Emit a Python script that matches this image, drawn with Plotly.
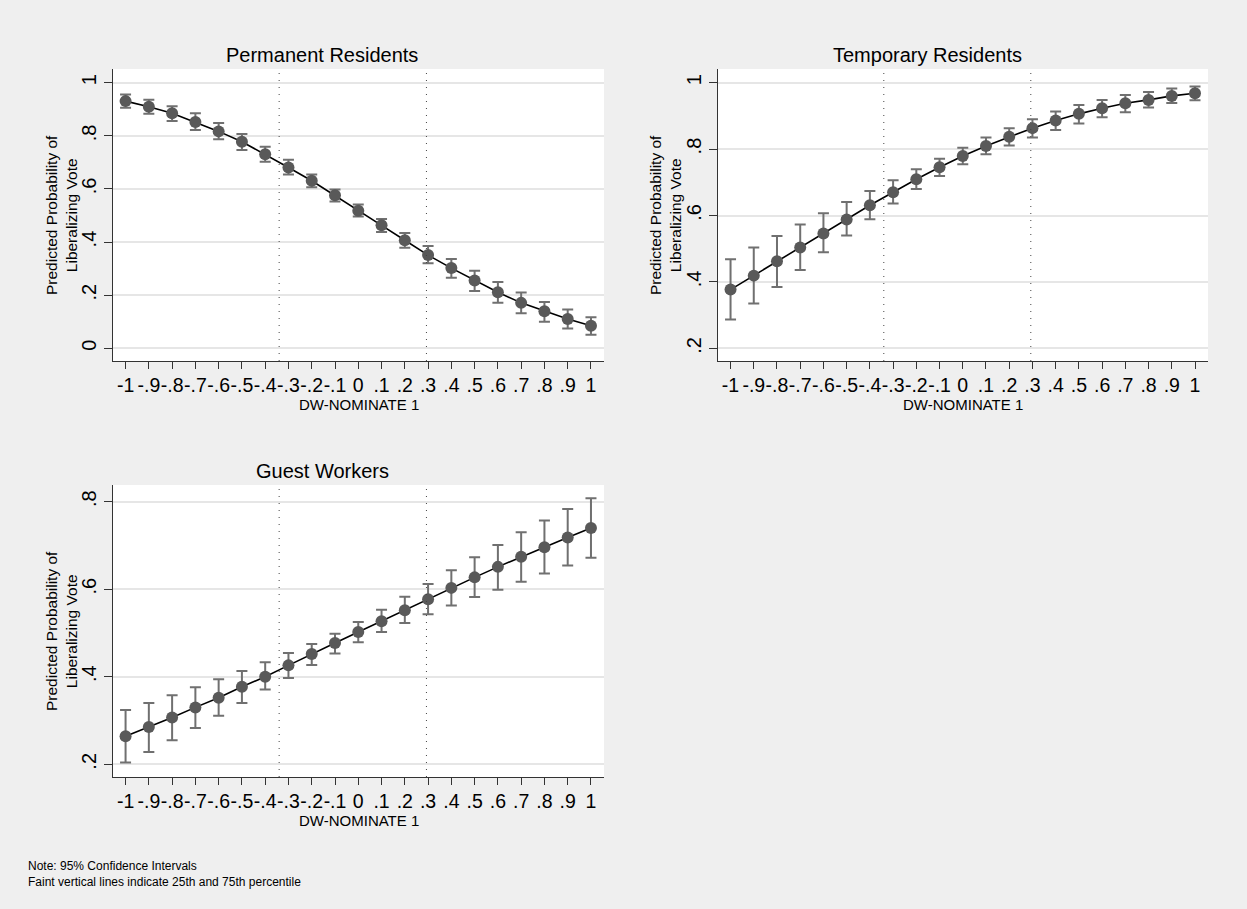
import plotly.graph_objects as go

# ---- data ----
x_vals = [-1.0, -0.9, -0.8, -0.7, -0.6, -0.5, -0.4, -0.3, -0.2, -0.1, 0.0,
          0.1, 0.2, 0.3, 0.4, 0.5, 0.6, 0.7, 0.8, 0.9, 1.0]
x_ticklabels = ["-1", "-.9", "-.8", "-.7", "-.6", "-.5", "-.4", "-.3", "-.2", "-.1", "0",
                ".1", ".2", ".3", ".4", ".5", ".6", ".7", ".8", ".9", "1"]

perm_mean = [0.931, 0.910, 0.885, 0.852, 0.817, 0.778, 0.731, 0.681, 0.631, 0.576, 0.518,
             0.463, 0.407, 0.351, 0.302, 0.255, 0.211, 0.171, 0.139, 0.110, 0.085]
perm_hi = [0.956, 0.936, 0.912, 0.885, 0.849, 0.807, 0.759, 0.710, 0.655, 0.598, 0.542,
           0.487, 0.434, 0.385, 0.336, 0.292, 0.250, 0.210, 0.174, 0.146, 0.117]
perm_lo = [0.906, 0.883, 0.856, 0.822, 0.787, 0.747, 0.703, 0.655, 0.607, 0.553, 0.496,
           0.438, 0.379, 0.320, 0.266, 0.216, 0.171, 0.132, 0.100, 0.074, 0.051]

temp_mean = [0.377, 0.419, 0.462, 0.504, 0.546, 0.588, 0.631, 0.670, 0.709, 0.745, 0.779,
             0.809, 0.837, 0.863, 0.886, 0.906, 0.923, 0.938, 0.948, 0.960, 0.968]
temp_hi = [0.468, 0.504, 0.538, 0.573, 0.607, 0.641, 0.674, 0.706, 0.739, 0.771, 0.804,
           0.835, 0.863, 0.890, 0.913, 0.933, 0.948, 0.963, 0.972, 0.982, 0.988]
temp_lo = [0.287, 0.335, 0.385, 0.436, 0.489, 0.540, 0.589, 0.636, 0.680, 0.719, 0.754,
           0.784, 0.811, 0.835, 0.857, 0.877, 0.896, 0.911, 0.925, 0.939, 0.947]

guest_mean = [0.264, 0.285, 0.307, 0.330, 0.352, 0.377, 0.400, 0.426, 0.452, 0.477, 0.502,
              0.527, 0.552, 0.577, 0.603, 0.627, 0.651, 0.674, 0.696, 0.718, 0.740]
guest_hi = [0.324, 0.340, 0.358, 0.376, 0.394, 0.413, 0.433, 0.454, 0.475, 0.498, 0.525,
            0.553, 0.583, 0.612, 0.643, 0.673, 0.701, 0.730, 0.757, 0.783, 0.808]
guest_lo = [0.204, 0.228, 0.255, 0.283, 0.311, 0.340, 0.371, 0.397, 0.427, 0.453, 0.479,
            0.502, 0.523, 0.543, 0.563, 0.582, 0.599, 0.617, 0.636, 0.654, 0.672]

percentiles = [-0.34, 0.293]  # 25th and 75th percentile of DW-NOMINATE 1

panel_titles = ["Permanent Residents", "Temporary Residents", "Guest Workers"]
x_title = "DW-NOMINATE 1"
y_title = "Predicted Probability of<br>Liberalizing Vote"
y_ticks = [[0, 0.2, 0.4, 0.6, 0.8, 1.0], [0.2, 0.4, 0.6, 0.8, 1.0], [0.2, 0.4, 0.6, 0.8]]
y_ticklabels = [["0", ".2", ".4", ".6", ".8", "1"], [".2", ".4", ".6", ".8", "1"],
                [".2", ".4", ".6", ".8"]]
y_ranges = [[-0.048, 1.052], [0.162, 1.041], [0.171, 0.838]]
x_range = [-1.054, 1.056]
note_text = ("Note: 95% Confidence Intervals<br>"
             "Faint vertical lines indicate 25th and 75th percentile")

# ---- layout geometry (pixels) ----
W, H = 1247, 909
panels = [
    dict(x0=113, x1=604, y0=69, y1=361, title_x=322, title_y=55, ytitle_x=61, xtitle_y=405),
    dict(x0=718, x1=1208, y0=69, y1=361, title_x=927, title_y=55, ytitle_x=665, xtitle_y=405),
    dict(x0=113, x1=604, y0=485, y1=777, title_x=322, title_y=471, ytitle_x=61, xtitle_y=820),
]

FONT = "Liberation Sans, Arial, Helvetica, sans-serif"
fig = go.Figure()

series = [(perm_mean, perm_lo, perm_hi), (temp_mean, temp_lo, temp_hi),
          (guest_mean, guest_lo, guest_hi)]


def px(xp):
    return xp / W


def py(yp):
    return 1 - yp / H


for i, (mean, lo, hi) in enumerate(series):
    sfx = "" if i == 0 else str(i + 1)
    fig.add_trace(go.Scatter(
        x=x_vals, y=mean, mode="lines+markers",
        line=dict(color="black", width=1.6),
        marker=dict(color="#595959", size=12),
        error_y=dict(type="data", symmetric=False,
                     array=[h - m for h, m in zip(hi, mean)],
                     arrayminus=[m - l for m, l in zip(mean, lo)],
                     color="#707070", thickness=2, width=5.5),
        xaxis="x" + sfx, yaxis="y" + sfx, showlegend=False,
    ))
    p = panels[i]
    fig.update_layout(**{
        "xaxis" + sfx: dict(
            domain=[px(p["x0"]), px(p["x1"])], anchor="y" + sfx, range=x_range,
            tickmode="array", tickvals=x_vals, ticktext=x_ticklabels, tickangle=0,
            ticks="outside", ticklen=7, tickcolor="#333", tickwidth=1,
            showline=True, linecolor="#333", linewidth=1, showgrid=False,
            zeroline=False, tickfont=dict(size=19.5, color="black", family=FONT),
        ),
        "yaxis" + sfx: dict(
            domain=[py(p["y1"]), py(p["y0"])], anchor="x" + sfx, range=y_ranges[i],
            tickmode="array", tickvals=y_ticks[i], ticktext=y_ticklabels[i],
            tickangle=-90,
            ticks="outside", ticklen=8, tickcolor="#333", tickwidth=1,
            showline=True, linecolor="#333", linewidth=1,
            showgrid=True, gridcolor="#e6e6e6", gridwidth=1.5,
            zeroline=False, tickfont=dict(size=20, color="black", family=FONT),
        ),
    })
    for xv in percentiles:
        fig.add_shape(type="line", x0=xv, x1=xv, y0=0, y1=1,
                      xref="x" + sfx, yref="y" + sfx + " domain",
                      line=dict(color="#444", width=1, dash="1px,6px"))
    fig.add_annotation(text=panel_titles[i], x=px(p["title_x"]), y=py(p["title_y"]),
                       xref="paper", yref="paper", showarrow=False,
                       yanchor="middle", xanchor="center",
                       font=dict(size=20, color="black", family=FONT))
    fig.add_annotation(text=x_title, x=px((p["x0"] + p["x1"]) / 2), y=py(p["xtitle_y"]),
                       xref="paper", yref="paper", showarrow=False,
                       yanchor="middle", xanchor="center",
                       font=dict(size=15, color="black", family=FONT))
    fig.add_annotation(text=y_title, x=px(p["ytitle_x"]), y=py((p["y0"] + p["y1"]) / 2),
                       xref="paper", yref="paper", showarrow=False, textangle=-90,
                       yanchor="middle", xanchor="center",
                       font=dict(size=15.5, color="black", family=FONT))

fig.add_annotation(text=note_text, x=px(26), y=py(857), xref="paper", yref="paper",
                   xanchor="left", yanchor="top", align="left", showarrow=False,
                   font=dict(size=12, color="black", family=FONT))

fig.update_layout(
    width=W, height=H, margin=dict(l=0, r=0, t=0, b=0),
    paper_bgcolor="#efefef", plot_bgcolor="white",
    font=dict(family=FONT),
)

fig.write_html("out.html")
